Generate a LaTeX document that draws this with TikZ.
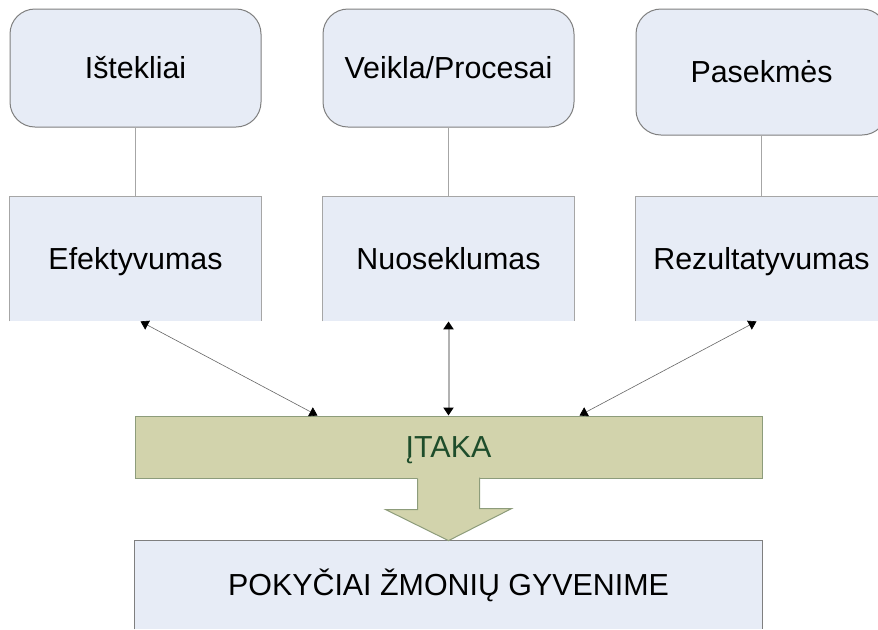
\documentclass[tikz,border=0pt]{standalone}
\usepackage{fontspec}
\setmainfont{Liberation Sans}
\usetikzlibrary{arrows.meta}
\definecolor{boxblue}{HTML}{E7ECF6}
\definecolor{boxline}{HTML}{7F7F7F}
\definecolor{sideline}{HTML}{A6A6A6}
\definecolor{itakafill}{HTML}{D2D3AC}
\definecolor{itakaline}{HTML}{8D9C7B}
\definecolor{itakatext}{HTML}{1E4D2B}
\tikzset{
  label font/.style={font=\fontsize{15.2}{18}\selectfont, text height=12pt, text depth=2pt},
  topbox/.style={draw=boxline, line width=0.5pt, fill=boxblue, rounded corners=12.5pt,
    minimum width=125.5pt, minimum height=59pt, inner sep=0pt, label font},
  openbox/.style={fill=boxblue, minimum width=125.5pt, minimum height=62pt, inner sep=0pt, label font},
  link/.style={draw=sideline, line width=0.5pt},
  twoway/.style={{Triangle[length=4pt,width=5pt,color=black]}-{Triangle[length=4pt,width=5pt,color=black]}, draw=black!60, line width=0.3pt}
}
\newcommand{\opensides}[2]{\draw[#2, line width=0.6pt] (#1.south west) -- (#1.north west) -- (#1.north east) -- (#1.south east);}

\begin{document}
\begin{tikzpicture}[x=0.5pt, y=-0.5pt]
        \useasboundingbox (0,0) rectangle (878,629);
        \clip (0,0) rectangle (878,629);
        % top row
        \node[topbox] (ist) at (135.5,68) {Ištekliai};
        \node[topbox] (vei) at (448.5,68) {Veikla/Procesai};
        \node[topbox, minimum height=63pt] (pas) at (761.5,72) {Pasekmės};

        % second row
        \node[openbox] (efe) at (135.5,259) {Efektyvumas};
        \node[openbox] (nuo) at (448.5,259) {Nuoseklumas};
        \node[openbox] (rez) at (761.5,259) {Rezultatyvumas};
        \opensides{efe}{sideline}
        \opensides{nuo}{sideline}
        \opensides{rez}{sideline}

        \draw[link] (ist) -- (efe);
        \draw[link] (vei) -- (nuo);
        \draw[link] (pas) -- (rez);

        % influence
        \node[fill=itakafill, draw=itakaline, line width=0.5pt, minimum width=313.5pt, minimum height=31pt,
          inner sep=0pt, text=itakatext, label font] (itaka) at (448.5,447) {ĮTAKA};

        \draw[twoway] ([xshift=2.5pt]efe.south) -- ([xshift=-65.5pt]itaka.north);
        \draw[twoway, draw=black!30, line width=1pt] (nuo.south) -- (itaka.north);
        \draw[twoway] ([xshift=-2.5pt]rez.south) -- ([xshift=65.5pt]itaka.north);

        % result
        \node[fill=boxblue, minimum width=313.5pt, minimum height=44pt, inner sep=0pt, label font]
          (pok) at (448.5,585) {POKYČIAI ŽMONIŲ GYVENIME};
        \opensides{pok}{boxline}

        % big arrow
        \fill[itakafill] (itaka.south) ++(-31,-1) -- ++(0,32) -- ++(-32,0) -- (pok.north)
          -- ++(63,-32) -- ++(-32,0) -- ++(0,-32) -- cycle;
        \draw[itakaline, line width=0.5pt] (itaka.south) ++(-31,0) -- ++(0,31) -- ++(-32,0) -- (pok.north)
          -- ++(63,-32) -- ++(-32,0) -- ++(0,-31);
\end{tikzpicture}
\end{document}
